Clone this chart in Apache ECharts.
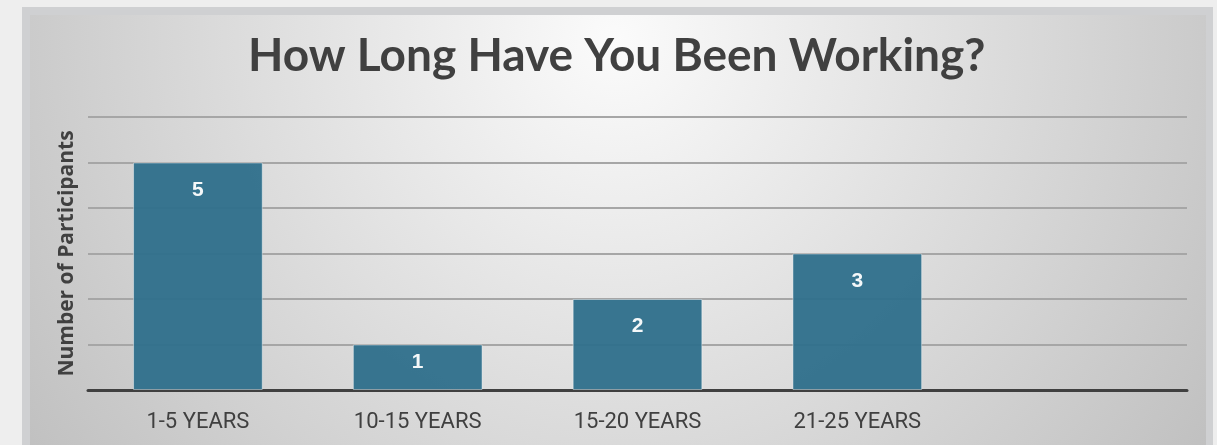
<!DOCTYPE html>
<html>
<head>
<meta charset="utf-8">
<script src="https://cdn.jsdelivr.net/npm/echarts@6/dist/echarts.min.js"></script>
<style>
  html, body { margin: 0; padding: 0; background: #eeeeee; }
  #chart { width: 1217px; height: 445px; }
</style>
</head>
<body>
<div id="chart"></div>
<script>
// data
const categories = ['1-5 YEARS', '10-15 YEARS', '15-20 YEARS', '21-25 YEARS', ''];
const participants = [5, 1, 2, 3];

const chart = echarts.init(document.getElementById('chart'));

// short bars get their label pulled up closer to the top edge
const barData = participants.map(v => (
  v <= 1 ? { value: v, label: { distance: 7 } } : v
));

const option = {
  animation: false,
  backgroundColor: '#eeeeee',
  graphic: [
    // grey frame
    {
      type: 'rect',
      z: -100,
      shape: { x: 22, y: 7, width: 1191, height: 445 },
      style: { fill: '#cfd0d2' }
    },
    // inner panel with a soft radial fill
    {
      type: 'rect',
      z: -99,
      shape: { x: 30, y: 15, width: 1176, height: 440 },
      style: {
        fill: {
          type: 'radial',
          x: 615, y: 40, r: 720,
          global: true,
          colorStops: [
            { offset: 0, color: '#fbfbfb' },
            { offset: 1, color: '#c0c0c0' }
          ]
        }
      }
    }
  ],
  title: {
    text: 'How Long Have You Been Working?',
    left: 243,
    top: 28,
    textStyle: {
      fontFamily: 'Lato',
      fontWeight: 'bold',
      fontSize: 46,
      color: '#404040'
    }
  },
  grid: {
    left: 88,
    right: 30,
    top: 117,
    bottom: 55
  },
  xAxis: {
    type: 'category',
    data: categories,
    axisLine: { lineStyle: { color: '#404040', width: 3 } },
    axisTick: { show: false },
    axisLabel: {
      margin: 21,
      fontFamily: 'Roboto',
      fontSize: 22,
      color: '#404040'
    }
  },
  yAxis: {
    type: 'value',
    min: 0,
    max: 6,
    interval: 1,
    name: 'Number of Participants',
    nameLocation: 'middle',
    nameGap: 10,
    nameTextStyle: {
      fontFamily: 'Open Sans',
      fontWeight: 'bold',
      fontSize: 21,
      color: '#404040'
    },
    axisLabel: { show: false },
    axisLine: { show: false },
    axisTick: { show: false },
    splitLine: { lineStyle: { color: '#a6a6a6', width: 2 } }
  },
  series: [
    {
      type: 'bar',
      data: barData,
      barCategoryGap: '41%',
      itemStyle: {
        color: '#2e6f8b',
        opacity: 0.95,
        borderColor: 'rgba(255,255,255,0.45)',
        borderWidth: 1
      },
      label: {
        show: true,
        position: 'insideTop',
        distance: 17,
        fontFamily: 'Liberation Sans',
        fontWeight: 'bold',
        fontSize: 21,
        color: '#ffffff'
      }
    }
  ]
};

chart.setOption(option);
window.addEventListener('resize', () => chart.resize());
</script>
</body>
</html>
